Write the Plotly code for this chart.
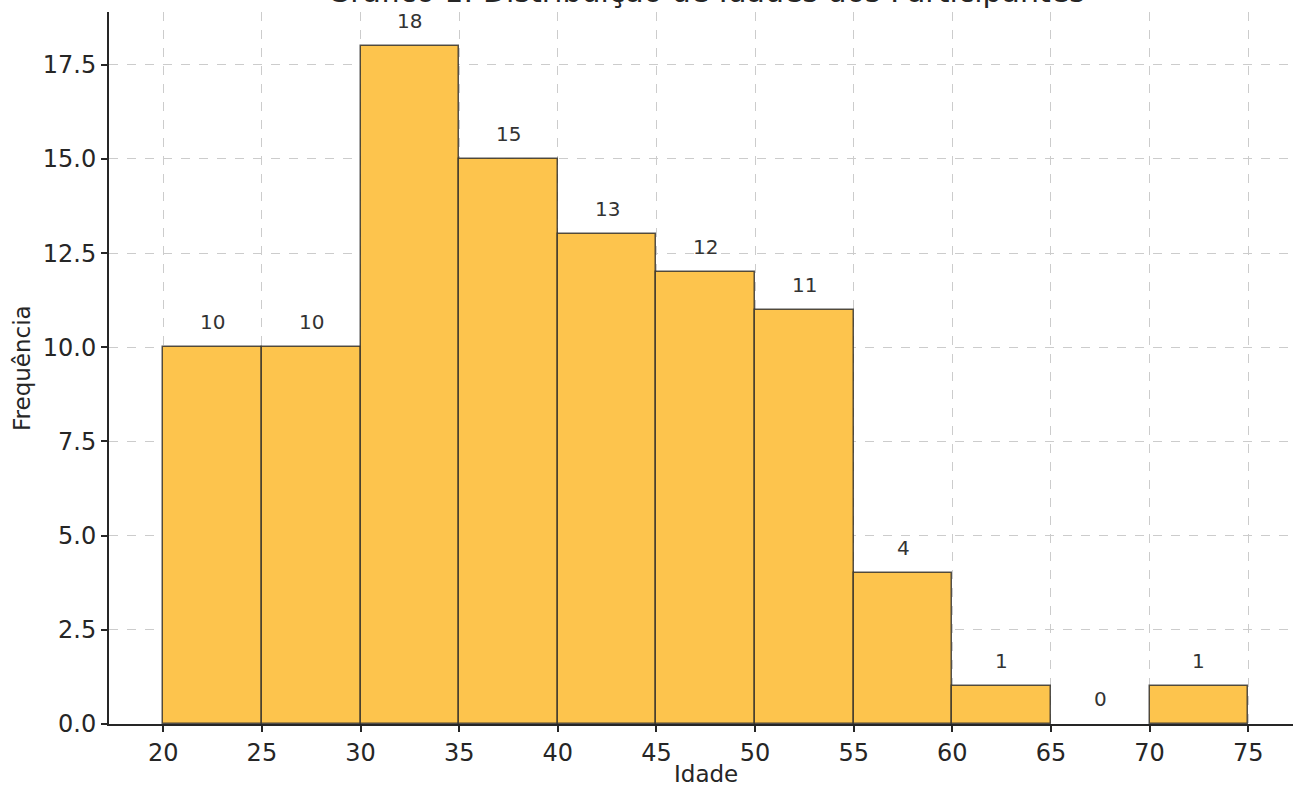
import plotly.graph_objects as go

# Age histogram: bin edges and counts per 5-year bin
bin_edges = [20, 25, 30, 35, 40, 45, 50, 55, 60, 65, 70, 75]
counts = [10, 10, 18, 15, 13, 12, 11, 4, 1, 0, 1]
x_ticks = [20, 25, 30, 35, 40, 45, 50, 55, 60, 65, 70, 75]
y_ticks = [0, 2.5, 5, 7.5, 10, 12.5, 15, 17.5]

title_text = "Gráfico 1: Distribuição de Idades dos Participantes"
x_title = "Idade"
y_title = "Frequência"

centers = [(a + b) / 2 for a, b in zip(bin_edges[:-1], bin_edges[1:])]
widths = [b - a for a, b in zip(bin_edges[:-1], bin_edges[1:])]
# empty bins get no outline
edge_widths = [1.5 if v > 0 else 0 for v in counts]

FONT = "DejaVu Sans, sans-serif"
TEXT = "#262626"

fig = go.Figure()
fig.add_trace(go.Bar(
    x=centers,
    y=counts,
    width=widths,
    marker=dict(color="#FDC44D", line=dict(color="rgba(40,40,40,0.8)", width=edge_widths)),
    hoverinfo="x+y",
))

annotations = []
for c, v in zip(centers, counts):
    annotations.append(dict(
        x=c, y=v, xref="x", yref="y", text=str(v), showarrow=False,
        yanchor="middle", yshift=25,
        font=dict(family=FONT, size=20, color="#333333"),
    ))

# Figure title, sitting at the very top edge of the page
annotations.append(dict(
    x=47.5, y=1, xref="x", yref="paper", text=title_text, showarrow=False,
    yanchor="bottom", yshift=1,
    font=dict(family=FONT, size=30, color=TEXT),
))

# Axis titles placed explicitly in the margins
annotations.append(dict(
    x=47.5, y=0, xref="x", yref="paper", text=x_title, showarrow=False,
    yanchor="middle", yshift=-50,
    font=dict(family=FONT, size=23, color=TEXT),
))
annotations.append(dict(
    x=0, y=0.5, xref="paper", yref="paper", text=y_title, showarrow=False,
    xanchor="center", yanchor="middle", xshift=-87, textangle=-90,
    font=dict(family=FONT, size=23, color=TEXT),
))

x_min = 20 - 0.05 * 55
x_max = x_min + (1293 - 109) / (1085 / 55)

fig.update_layout(
    width=1293, height=787,
    margin=dict(l=109, r=0, t=12, b=63),
    paper_bgcolor="white",
    plot_bgcolor="white",
    showlegend=False,
    bargap=0,
    annotations=annotations,
    font=dict(family=FONT, color=TEXT),
    xaxis=dict(
        range=[x_min, x_max],
        automargin=False,
        tickvals=x_ticks,
        ticktext=[str(t) for t in x_ticks],
        tickfont=dict(size=24, color=TEXT),
        ticks="outside", ticklen=6, tickwidth=1.5, tickcolor=TEXT,
        showline=True, linecolor=TEXT, linewidth=2,
        showgrid=True, gridcolor="#cccccc", griddash="dash", gridwidth=1,
        zeroline=False,
    ),
    yaxis=dict(
        range=[0, 18.9],
        automargin=False,
        tickvals=y_ticks,
        ticktext=[f"{t:.1f}" for t in y_ticks],
        tickfont=dict(size=24, color=TEXT),
        ticks="outside", ticklen=6, tickwidth=1.5, tickcolor=TEXT,
        showline=True, linecolor=TEXT, linewidth=2,
        showgrid=True, gridcolor="#cccccc", griddash="dash", gridwidth=1,
        zeroline=False,
    ),
)

fig.write_html("out.html")
